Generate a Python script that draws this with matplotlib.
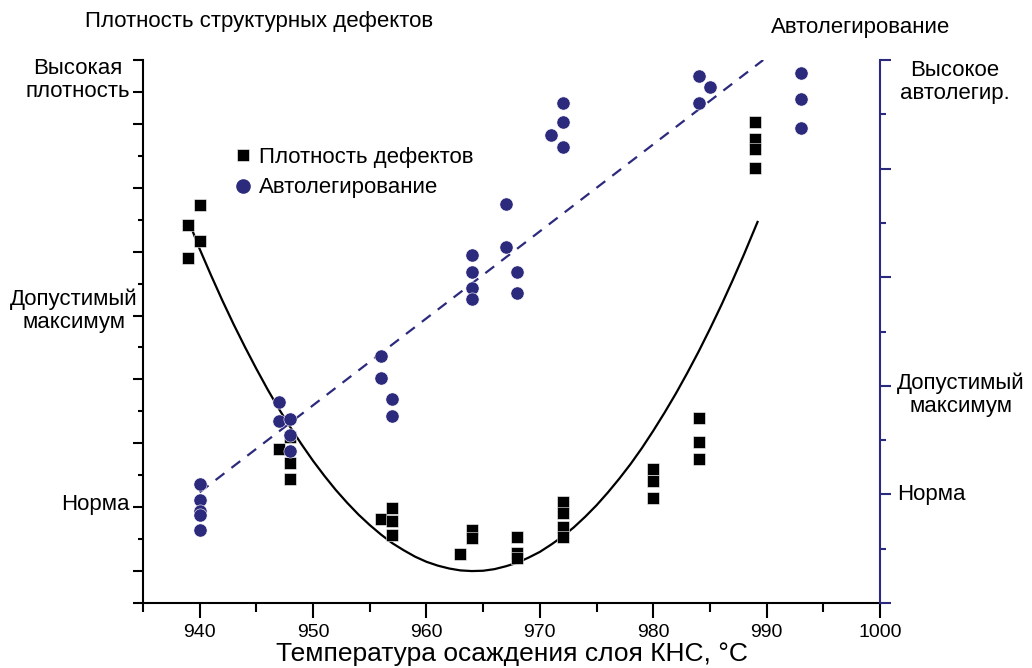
import numpy as np
import matplotlib
matplotlib.use("Agg")
import matplotlib.pyplot as plt
import matplotlib.transforms as mtransforms

plt.rcParams['font.family'] = ['Liberation Sans', 'DejaVu Sans']

NAVY = '#2c2a7c'

# defect density (left scale, tick units)
def_x = [939, 940, 940, 939,
         947, 948, 948, 948,
         956, 957, 957, 957,
         963, 964, 964,
         968, 968, 968,
         972, 972, 972, 972,
         980, 980, 980,
         984, 984, 984,
         989, 989, 989, 989]
def_y = [11.83, 12.46, 11.33, 10.80,
         4.81, 5.20, 4.39, 3.87,
         2.63, 2.96, 2.57, 2.13,
         1.53, 2.29, 2.03,
         2.08, 1.57, 1.40,
         3.17, 2.81, 2.39, 2.08,
         4.19, 3.82, 3.28,
         5.80, 5.03, 4.50,
         15.05, 14.52, 14.21, 13.61]

# autodoping (right scale, tick units)
auto_x = [940, 940, 940, 940, 940,
          947, 947, 948, 948, 948,
          956, 956, 957, 957,
          964, 964, 964, 964,
          967, 967, 968, 968,
          971, 972, 972, 972,
          984, 985, 984,
          993, 993, 993]
auto_y = [2.19, 1.90, 1.69, 1.62, 1.34,
          3.70, 3.36, 3.39, 3.09, 2.80,
          4.55, 4.15, 3.75, 3.45,
          6.41, 6.09, 5.81, 5.59,
          6.55, 7.35, 6.09, 5.70,
          8.62, 9.21, 8.86, 8.40,
          9.71, 9.51, 9.20,
          9.76, 9.29, 8.74]

# fitted curve for defect density
curve_x = [939.2, 940, 941, 942, 943, 944, 945, 946, 947, 948, 949, 950,
           951, 952, 953, 954, 955, 956, 957, 958, 959, 960, 961, 962, 963,
           964, 965, 966, 967, 968, 969, 970, 971, 972, 973, 974, 975, 976,
           977, 978, 979, 980, 981, 982, 983, 984, 985, 986, 987, 988, 989, 989.2]
curve_y = [11.80, 11.08, 10.26, 9.47, 8.72, 8.01, 7.33, 6.68, 6.07, 5.50, 4.96, 4.45,
           3.98, 3.54, 3.14, 2.77, 2.44, 2.14, 1.87, 1.65, 1.45, 1.29, 1.17, 1.08, 1.02,
           1.00, 1.01, 1.06, 1.15, 1.26, 1.42, 1.60, 1.83, 2.08, 2.37, 2.70, 3.06, 3.46,
           3.89, 4.35, 4.85, 5.39, 5.96, 6.56, 7.20, 7.87, 8.58, 9.32, 10.10, 10.91, 11.76, 11.93]

# linear trend for autodoping
trend_x = [940, 989.7]
trend_y = [2.04, 10.0]

fig = plt.figure(figsize=(10.32, 6.68), dpi=100)
ax = fig.add_axes([143 / 1032, 65 / 668, 737 / 1032, 543 / 668])
ax2 = ax.twinx()

ax.plot(curve_x, curve_y, color='black', lw=1.6, zorder=2)
ax.plot(def_x, def_y, 's', color='black', ms=8, mec='white', mew=0.4, zorder=3,
        label='Плотность дефектов')
ax2.plot(trend_x, trend_y, color=NAVY, lw=1.6, dashes=(5, 4), zorder=2)
ax2.plot(auto_x, auto_y, 'o', color=NAVY, ms=9.5, mec='white', mew=0.4, zorder=3)

ax.set_xlim(935, 1000)
ax.set_ylim(0, 17)
ax2.set_ylim(0, 10)

for s in ['top', 'right']:
    ax.spines[s].set_visible(False)
for s in ['top', 'left', 'bottom']:
    ax2.spines[s].set_visible(False)
ax.spines['left'].set_linewidth(1.5)
ax.spines['bottom'].set_linewidth(1.5)
ax2.spines['right'].set_linewidth(1.5)
ax2.spines['right'].set_color(NAVY)

# x ticks
ax.set_xticks(np.arange(940, 1001, 10))
ax.set_xticks(np.arange(935, 1001, 5), minor=True)
ax.set_xticklabels([str(v) for v in range(940, 1001, 10)], fontsize=14)
ax.tick_params(axis='x', which='major', length=11, width=1.5, direction='out', pad=4)
ax.tick_params(axis='x', which='minor', length=6.5, width=1.5, direction='out')
ax.set_xlabel('Температура осаждения слоя КНС, °С', fontsize=19, labelpad=1)

# left ticks
ax.set_yticks([0, 1, 3, 5, 7, 9, 11, 13, 15, 16, 17])
ax.set_yticks([2, 4, 6, 8, 10, 12, 14], minor=True)
ax.tick_params(axis='y', which='major', length=7.2, width=1.5, labelleft=False)
ax.tick_params(axis='y', which='minor', length=3.6, width=1.5)

# right ticks
ax2.set_yticks([0, 2, 4, 6, 8, 10])
ax2.set_yticks([1, 3, 5, 7, 9], minor=True)
ax2.tick_params(axis='y', which='major', length=7.7, width=1.5, color=NAVY, labelright=False)
ax2.tick_params(axis='y', which='minor', length=4.1, width=1.5, color=NAVY)

fs = 16
ls = 1.12
tl = mtransforms.blended_transform_factory(ax.transAxes, ax.transData)
x_l = -13 / 737
ax.text(x_l, 16.37, 'Высокая\nплотность', transform=tl, ha='right', va='center',
        multialignment='center', fontsize=fs, linespacing=ls)
ax.text(x_l + 8 / 737, 9.14, 'Допустимый\nмаксимум', transform=tl, ha='right', va='center',
        multialignment='center', fontsize=fs, linespacing=ls)
ax.text(x_l, 3.07, 'Норма', transform=tl, ha='right', va='center', fontsize=fs)

tr = mtransforms.blended_transform_factory(ax2.transAxes, ax2.transData)
x_r = 1 + 17 / 737
ax2.text(x_r + 3 / 737, 9.60, 'Высокое\nавтолегир.', transform=tr, ha='left', va='center',
         multialignment='center', fontsize=fs, linespacing=ls)
ax2.text(x_r, 3.84, 'Допустимый\nмаксимум', transform=tr, ha='left', va='center',
         multialignment='center', fontsize=fs, linespacing=ls)
ax2.text(x_r, 2.0, 'Норма', transform=tr, ha='left', va='center', fontsize=fs)

fig.text(85 / 1032, 1 - 22 / 668, 'Плотность структурных дефектов', ha='left', va='center', fontsize=fs)
fig.text(950 / 1032, 1 - 27 / 668, 'Автолегирование', ha='right', va='center', fontsize=fs)

# legend
ax.plot([], [], 'o', color=NAVY, ms=9.5, label='Автолегирование')
ax.legend(loc='upper left', bbox_to_anchor=(93 / 737, 1 - 87 / 543), frameon=False,
          fontsize=fs, handlelength=0.6, handletextpad=0.45, labelspacing=0.42,
          borderpad=0, borderaxespad=0)

fig.savefig('out.png', dpi=100)
